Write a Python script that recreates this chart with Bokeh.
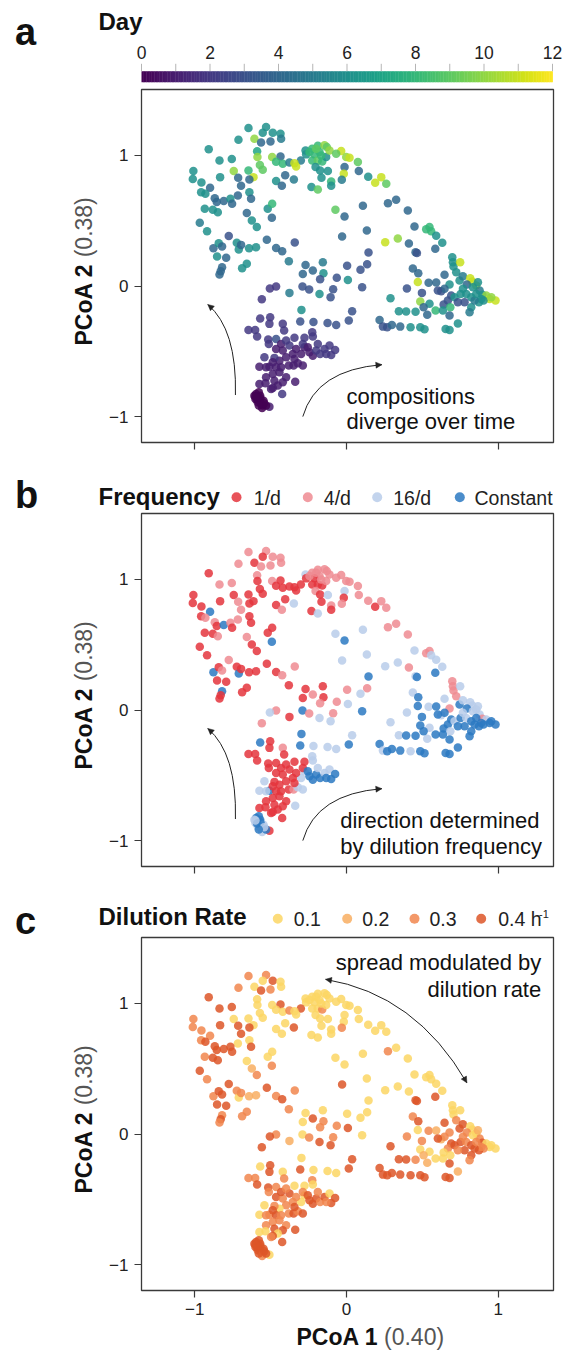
import math
from bokeh.plotting import figure
from bokeh.models import Range1d, FixedTicker, Label, Arrow, NormalHead, ColumnDataSource
from bokeh.layouts import column, row
from bokeh.palettes import Viridis256
from bokeh.transform import linear_cmap
from bokeh.core.properties import value
from bokeh.embed import file_html
from bokeh.resources import INLINE

FONT = "Liberation Sans"

# ---------------- data (PCoA coordinates, sampling day, dilution frequency, dilution rate)
pc1 = [
 -0.646,-0.530,-0.552,-0.486,-0.435,-0.431,-0.712,-0.607,-0.563,-0.501,
 -0.908,-0.589,-0.587,-0.490,-0.435,-0.837,-0.756,-1.009,-1.013,-0.743,
 -0.646,-0.571,-0.552,-0.464,-0.420,-0.376,-0.613,-0.640,-0.714,-0.833,
 -0.956,-0.899,-0.695,-0.640,-0.716,-0.958,-0.930,-0.868,-0.855,-0.809,
 -0.765,-0.754,-0.629,-0.934,-0.881,-0.848,-0.519,-0.490,-0.657,-0.492,
 -0.624,-0.591,-0.967,-0.919,-0.776,-0.877,-0.842,-0.820,-0.723,-0.710,
 -0.695,-0.853,-0.793,-0.642,-0.596,-0.525,-0.464,-0.424,-0.341,-0.657,
 -0.688,-0.820,-0.829,-0.837,
 -0.270,-0.226,-0.189,-0.145,-0.130,-0.178,-0.211,-0.266,-0.301,-0.343,
 -0.332,-0.226,-0.189,-0.160,-0.134,-0.204,-0.174,-0.123,-0.035,-0.002,
 0.020,0.075,-0.013,0.081,-0.018,-0.165,-0.231,-0.189,-0.101,-0.101,
 -0.031,-0.347,-0.404,-0.464,-0.426,0.143,0.189,0.229,0.262,
 0.327,0.273,0.108,0.404,-0.073,-0.013,0.134,-0.029,0.448,0.525,
 0.547,0.558,0.591,0.255,0.338,0.411,0.455,0.464,0.585,0.631,
 0.145,0.004,0.136,0.092,-0.156,-0.270,-0.222,-0.152,-0.174,-0.288,
 -0.380,-0.064,0.009,-0.290,-0.246,-0.088,-0.105,-0.178,-0.376,-0.464,
 -0.505,-0.558,0.103,0.437,0.473,0.398,0.470,0.497,0.486,0.541,
 0.591,0.624,0.646,0.679,0.697,0.701,0.705,0.749,0.723,0.745,
 0.767,0.815,0.829,0.855,0.793,0.690,0.668,0.640,0.684,0.712,
 0.752,0.789,0.822,0.877,0.895,0.921,0.943,0.982,0.903,0.873,
 0.822,0.811,0.587,0.635,0.679,0.532,0.455,0.345,0.393,0.290,
 0.218,0.240,0.268,0.299,0.354,0.422,0.486,0.514,0.653,0.679,0.734,
 -0.297,0.037,0.015,-0.068,-0.125,-0.218,-0.305,-0.569,-0.503,-0.508,
 -0.420,-0.646,-0.602,-0.589,-0.516,-0.512,-0.464,-0.411,-0.376,-0.343,
 -0.277,-0.226,-0.222,-0.464,-0.420,-0.398,-0.442,-0.475,-0.541,-0.574,
 -0.508,-0.464,-0.380,-0.349,-0.321,-0.288,-0.299,-0.277,-0.244,-0.222,
 -0.200,-0.174,-0.145,-0.112,-0.075,-0.101,-0.288,-0.332,-0.442,-0.486,
 -0.530,-0.398,-0.420,-0.338,-0.475,-0.453,-0.574,-0.534,-0.486,-0.424,-0.497,
 -0.596,-0.585,-0.600,-0.574,-0.563,-0.585,-0.552,-0.508,-0.569,-0.547,-0.578,-0.607,-0.556,-0.530,
 0.833,0.866,0.888,0.954,0.844,0.778,0.734,0.767,0.855,0.646,0.602,0.547,0.508,
 -0.431,-0.354,-0.398,-0.486,-0.343,-0.530,-0.431,-0.255,-0.189,-0.134,
 -0.589,-0.567,-0.543,-0.578,-0.600,
 -0.167,-0.244,-0.200,-0.112,-0.068,
]
pc2 = [
 1.209,1.217,1.173,1.173,1.166,1.128,1.120,1.128,1.099,1.107,
 1.048,1.031,0.987,0.987,0.992,0.962,0.972,0.880,0.819,0.880,
 0.885,0.926,0.890,0.952,0.936,0.946,0.834,0.816,0.829,0.834,
 0.793,0.753,0.768,0.719,0.694,0.719,0.707,0.673,0.643,0.651,
 0.668,0.630,0.668,0.592,0.584,0.566,0.592,0.630,0.559,0.523,
 0.503,0.452,0.485,0.421,0.383,0.291,0.329,0.304,0.332,0.281,
 0.316,0.227,0.217,0.291,0.298,0.355,0.293,0.268,0.334,0.171,
 0.138,0.145,0.115,0.089,
 1.038,1.051,1.074,1.077,1.064,1.026,1.008,1.008,0.962,0.941,
 0.916,0.962,0.962,0.954,0.987,0.911,0.885,0.880,1.033,0.987,
 0.982,0.949,0.911,0.880,0.860,0.829,0.758,0.740,0.801,0.768,
 0.814,0.816,0.849,0.804,0.768,0.837,0.791,0.834,0.783,
 0.661,0.635,0.615,0.579,0.584,0.533,0.426,0.380,0.457,0.436,
 0.452,0.421,0.385,0.337,0.365,0.327,0.260,0.253,0.286,0.332,
 0.258,0.156,0.168,0.125,0.184,0.163,0.120,0.099,0.054,0.094,
 0.191,0.064,0.048,-0.003,-0.026,-0.023,-0.084,-0.059,-0.051,-0.003,
 -0.018,-0.099,-0.008,0.135,0.099,-0.018,0.033,-0.051,-0.117,0.026,
 0.028,-0.038,0.087,0.013,0.222,0.184,0.151,0.184,0.107,0.043,
 0.077,0.061,0.036,0.005,0.013,-0.071,-0.110,-0.140,-0.161,-0.084,
 -0.059,-0.059,-0.084,-0.033,-0.066,-0.071,-0.097,-0.110,-0.110,-0.122,
 -0.161,-0.199,-0.186,-0.186,-0.224,-0.219,-0.196,-0.191,-0.194,-0.092,
 -0.258,-0.309,-0.314,-0.296,-0.309,-0.314,-0.314,-0.329,-0.327,-0.334,-0.286,
 -0.181,-0.191,-0.263,-0.296,-0.281,-0.273,-0.270,-0.247,-0.237,-0.288,
 -0.288,-0.334,-0.334,-0.385,-0.408,-0.441,-0.403,-0.339,-0.454,-0.395,
 -0.395,-0.352,-0.385,-0.480,-0.492,-0.543,-0.569,-0.548,-0.543,-0.615,
 -0.615,-0.620,-0.607,-0.607,-0.589,-0.607,-0.518,-0.467,-0.505,-0.531,
 -0.492,-0.518,-0.480,-0.454,-0.487,-0.526,-0.441,-0.480,-0.658,-0.671,
 -0.696,-0.696,-0.735,-0.730,-0.722,-0.760,-0.747,-0.742,-0.778,-0.824,-0.786,
 -0.824,-0.849,-0.862,-0.875,-0.901,-0.888,-0.913,-0.921,-0.837,-0.875,-0.811,-0.837,-0.931,-0.913,
 -0.008,0.031,-0.097,-0.084,-0.110,-0.122,-0.122,-0.020,-0.059,-0.020,-0.033,-0.135,-0.161,
 -0.441,-0.518,-0.416,-0.582,-0.556,-0.620,-0.620,-0.467,-0.441,-0.518,
 -0.867,-0.857,-0.895,-0.913,-0.844,
 1.000,1.026,1.051,1.038,1.013,
]
day = [
 6,6,6,6,6,5,6,10,4,4,
 6,7,10,10,4,6,6,6,6,10,
 8,9,9,8,8,5,11,4,4,6,
 6,4,4,6,4,6,6,4,4,4,
 6,4,4,6,6,6,6,8,4,4,
 6,6,5,6,3,4,6,4,6,6,
 4,6,4,6,6,4,4,4,3,6,
 6,4,4,4,
 6,8,8,10,9,8,8,6,5,11,
 11,8,9,8,6,6,6,6,11,10,
 11,9,4,4,11,6,6,9,8,6,
 5,5,4,6,4,6,11,11,9,
 4,4,4,4,9,4,4,4,4,8,
 8,8,6,11,10,4,4,3,4,6,
 3,3,3,3,5,4,4,6,3,4,
 5,3,6,3,3,3,3,6,5,2,
 2,2,3,4,4,3,11,3,10,4,
 4,3,4,6,6,6,6,11,6,6,
 5,11,11,10,4,3,3,3,8,6,
 6,6,6,5,6,10,11,11,6,6,
 6,5,8,6,4,4,6,6,6,6,
 4,3,3,4,4,6,6,6,6,6,6,
 6,3,3,3,3,3,3,2,2,2,
 2,2,2,2,2,2,3,2,2,2,
 2,2,2,1,1,1,1,2,2,1,
 1,1,1,1,1,1,1,1,1,1,
 2,2,2,2,2,2,2,1,1,1,
 1,1,1,1,1,1,1,1,1,2,1,
 0,0,0,0,0,0,0,1,0,0,0,0,0,0,
 6,6,6,10,5,3,3,6,6,4,3,6,4,
 1,1,2,1,1,1,1,1,2,2,
 0,0,0,0,0,
 8,8,9,10,9,
]
# dilutions per day; 0 = constant (continuous) dilution
freq = [
 4,4,1,4,4,4,4,1,4,4,
 1,4,1,4,1,4,4,1,1,1,
 1,1,1,1,1,1,1,1,4,1,
 1,0,4,1,4,1,4,4,1,0,
 4,1,1,1,1,4,1,1,4,0,
 1,1,1,1,4,0,1,4,1,0,
 1,1,1,1,1,1,1,4,4,1,
 1,0,1,1,
 16,4,4,4,4,4,1,1,1,1,
 1,1,1,1,4,4,1,16,4,4,
 4,4,16,4,1,1,1,16,4,1,
 4,16,1,1,4,4,1,4,4,
 4,4,16,4,16,0,16,16,16,4,
 4,16,16,16,16,4,16,0,0,16,
 0,4,4,16,1,1,4,1,4,1,
 1,4,16,0,4,4,16,16,1,4,
 16,4,0,16,0,16,0,0,0,16,
 0,16,16,4,4,4,4,16,4,0,
 16,16,16,16,0,0,0,0,16,16,
 0,16,0,16,4,16,0,0,0,0,
 0,0,0,0,0,16,0,16,0,16,
 0,16,0,0,0,16,0,0,0,0,0,
 0,16,0,16,16,16,0,0,1,1,
 4,1,1,1,1,1,1,1,1,1,
 1,16,16,1,1,1,1,1,16,16,
 0,1,1,4,16,16,16,16,0,0,
 0,0,16,16,0,0,1,1,1,1,
 1,1,1,16,1,1,1,1,1,1,1,
 0,0,16,0,16,16,16,1,0,16,0,16,16,0,
 16,16,0,0,0,0,0,16,0,0,0,16,0,
 1,1,1,1,1,16,1,0,16,0,
 0,0,16,0,16,
 4,4,4,4,4,
]
rate = [
 .3,.3,.1,.4,.1,.1,.3,.1,.4,.3,
 .4,.1,.1,.1,.4,.4,.4,.3,.3,.1,
 .1,.1,.1,.1,.1,.3,.1,.4,.4,.4,
 .3,.3,.4,.1,.1,.3,.4,.4,.4,.4,
 .4,.4,.4,.3,.4,.4,.1,.1,.1,.3,
 .2,.3,.4,.3,.4,.3,.4,.4,.3,.1,
 .3,.4,.4,.2,.2,.4,.3,.4,.3,.3,
 .3,.3,.4,.3,
 .1,.1,.1,.1,.1,.1,.1,.1,.4,.1,
 .1,.1,.1,.3,.1,.1,.1,.1,.1,.1,
 .1,.1,.1,.1,.1,.1,.1,.1,.1,.1,
 .3,.4,.1,.1,.1,.1,.1,.1,.1,
 .1,.3,.1,.1,.1,.1,.1,.4,.1,.1,
 .1,.1,.1,.1,.1,.1,.4,.4,.4,.1,
 .1,.1,.1,.1,.1,.1,.4,.3,.3,.1,
 .3,.3,.4,.1,.3,.3,.4,.4,.2,.3,
 .4,.4,.1,.3,.4,.3,.1,.3,.1,.3,
 .2,.2,.4,.3,.1,.1,.1,.1,.3,.4,
 .4,.1,.1,.1,.3,.4,.3,.1,.1,.4,
 .4,.3,.4,.3,.4,.1,.1,.1,.3,.4,
 .4,.3,.1,.1,.4,.2,.3,.4,.4,.4,
 .4,.4,.4,.4,.4,.4,.4,.4,.4,.4,.2,
 .1,.4,.4,.1,.1,.1,.4,.1,.4,.4,
 .1,.3,.3,.4,.4,.3,.3,.3,.4,.1,
 .1,.3,.1,.4,.3,.3,.1,.3,.1,.1,
 .3,.4,.3,.4,.3,.4,.1,.1,.4,.4,
 .4,.3,.4,.1,.4,.4,.3,.3,.3,.3,
 .3,.3,.4,.4,.4,.1,.1,.1,.4,.4,.3,
 .4,.4,.4,.4,.4,.4,.3,.1,.4,.4,.4,.4,.3,.4,
 .1,.2,.3,.1,.4,.4,.3,.3,.3,.3,.4,.1,.2,
 .4,.3,.3,.4,.4,.3,.3,.4,.3,.3,
 .4,.4,.4,.4,.4,
 .1,.1,.1,.1,.1,
]

pc_ticks = [-1, 0, 1]
pc_tick_labels = ["\u22121", "0", "1"]
day_ticks = [0, 1, 2, 3, 4, 5, 6, 7, 8, 9, 10, 11, 12]
day_labels = ["0", "2", "4", "6", "8", "10", "12"]
freq_codes = [1, 4, 16, 0]
freq_names = ["1/d", "4/d", "16/d", "Constant"]
rate_levels = [0.1, 0.2, 0.3, 0.4]
rate_names = ["0.1", "0.2", "0.3", "0.4 h"]

FREQ_COLORS = {1: "#e4353d", 4: "#ee8b92", 16: "#b9cdea", 0: "#2b79c2"}
RATE_COLORS = {0.1: "#fcd664", 0.2: "#f8ae62", 0.3: "#f1864d", 0.4: "#dd5628"}

n = len(pc1)
assert len(pc2) == n and len(day) == n and len(freq) == n and len(rate) == n

src = ColumnDataSource(dict(
    x=pc1, y=pc2, day=day,
    fcol=[FREQ_COLORS[f] for f in freq],
    rcol=[RATE_COLORS[r] for r in rate],
))

# ---------------- geometry (page pixels)
W = 564
WL = 98                 # left strip: panel letter + rotated y-axis title
LEFT, RIGHT = 141, 11   # frame edges
FRAME_H = 353
X_RANGE = (-1.351, 1.364)
Y_RANGE = (-1.195, 1.504)
YPX = FRAME_H / (Y_RANGE[1] - Y_RANGE[0])
SHIFT = 0.32            # em; compensates the renderer's baseline offset


def label(p, x, y, text, size, bold=False, color="#111111", align="left"):
    p.add_layout(Label(x=x, y=y + SHIFT * size / YPX, text=text, text_font=FONT, text_font_size=f"{size}px",
                       text_font_style="bold" if bold else "normal", text_color=color,
                       text_align=align, text_baseline="alphabetic"))


def px_y(off):  # data y for an offset (px) below the frame top
    return Y_RANGE[1] - off / YPX


def curved_arrow(p, p0, c, p2, heads):
    p.quadratic(x0=[p0[0]], y0=[p0[1]], x1=[p2[0]], y1=[p2[1]], cx=[c[0]], cy=[c[1]],
                line_color="#222222", line_width=1)
    for tip in heads:
        dxx, dyy = tip[0] - c[0], tip[1] - c[1]
        p.add_layout(Arrow(end=NormalHead(size=6, fill_color="#222222", line_color="#222222", line_width=0.5),
                           x_start=tip[0] - 0.03 * dxx, y_start=tip[1] - 0.03 * dyy,
                           x_end=tip[0], y_end=tip[1], line_alpha=0))


def strip(width, height, flip=True):
    """A plain canvas whose data units are pixels (used for titles / legends)."""
    yr = Range1d(height, 0) if flip else Range1d(0, height)
    h = figure(width=width, height=height, x_range=Range1d(0, width), y_range=yr,
               min_border=0, min_border_left=0, min_border_right=0, min_border_top=0, min_border_bottom=0,
               x_axis_location=None, y_axis_location=None,
               toolbar_location=None, output_backend="svg")
    h.frame_align = False
    h.grid.visible = False
    h.outline_line_color = None
    return h


def htext(h, xs, ys, texts, size, bold=False, color="#111111", align="left", x0=WL):
    """Horizontal text on a flipped strip; xs are page x, ys local baselines."""
    h.text(x=[x - x0 for x in xs], y=[y - SHIFT * size for y in ys], text=texts, text_font=value(FONT),
           text_font_size=value(f"{size}px"), text_font_style="bold" if bold else "normal",
           text_color=color, text_align=align, text_baseline="alphabetic")


def panel(height, top, bottom, fill):
    p = figure(width=W - WL, height=height, x_range=Range1d(*X_RANGE), y_range=Range1d(*Y_RANGE),
               min_border_left=LEFT - WL, min_border_right=RIGHT, min_border_top=top, min_border_bottom=bottom,
               toolbar_location=None, output_backend="svg")
    p.frame_align = False
    p.grid.visible = False
    p.outline_line_color = "#3a3a3a"
    p.outline_line_width = 1.3
    for ax in (p.xaxis[0], p.yaxis[0]):
        ax.ticker = FixedTicker(ticks=pc_ticks)
        ax.axis_line_color = None
        ax.major_tick_line_color = "#3a3a3a"
        ax.major_tick_line_width = 1.2
        ax.major_tick_in = 0
        ax.major_tick_out = 7
        ax.minor_tick_line_color = None
        ax.major_label_text_font = FONT
        ax.major_label_text_font_size = "17px"
        ax.major_label_text_color = "#222222"
        ax.major_label_overrides = {t: s for t, s in zip(pc_ticks, pc_tick_labels)}
    p.yaxis.major_label_standoff = 6
    p.xaxis.major_label_standoff = 5
    p.scatter(x="x", y="y", source=src, size=8.5, fill_color=fill, line_color=None, fill_alpha=0.85)
    return p


def hide_x_labels(p):
    p.xaxis.major_label_text_font_size = "1px"
    p.xaxis.major_label_text_color = None
    p.xaxis.major_label_standoff = 0


def left_strip(height, letter, letter_baseline, frame_top):
    """letter_baseline / frame_top are offsets from the block top."""
    s = strip(WL, height, flip=False)
    s.text(x=[14.5], y=[height - letter_baseline + SHIFT * 38], text=[letter], text_font=value(FONT),
           text_font_size=value("38px"), text_font_style="bold", text_color="#111111",
           text_align="left", text_baseline="alphabetic")
    ys = [height - (frame_top + 256), height - (frame_top + 167.8)]
    for yy, t, st, col in zip(ys, ["PCoA 2", "(0.38)"], ["bold", "normal"], ["#111111", "#555555"]):
        s.text(x=[91 - SHIFT * 23], y=[yy], text=[t], text_font=value(FONT), text_font_size=value("23px"),
               text_font_style=st, text_color=col, text_align="left", text_baseline="alphabetic",
               angle=math.pi / 2)
    return s


# ================= block a (page 0..471)
ha = strip(W - WL, 86)
htext(ha, [WL], [28.3], ["Day"], 24, bold=True)
CB_L, CB_W = LEFT - WL, 411
nseg = len(Viridis256)
seg = CB_W / nseg
lefts = [CB_L + i * seg for i in range(nseg)]
ha.quad(left=lefts, right=[l + seg + 0.4 for l in lefts], top=[70.7] * nseg, bottom=[81.7] * nseg,
        fill_color=list(Viridis256), line_color=None)
tx = [CB_L + d * CB_W / 12 for d in day_ticks]
ha.segment(x0=tx, y0=[63.3] * len(tx), x1=tx, y1=[70.7] * len(tx), line_color="#b5b5b5", line_width=1)
htext(ha, [LEFT + int(s) * CB_W / 12 for s in day_labels], [57.3] * len(day_labels), day_labels, 17.5,
      color="#222222", align="center")

fa = panel(385, 3, 29, linear_cmap("day", Viridis256, 0, 12))
hide_x_labels(fa)
curved_arrow(fa, (-0.732, -0.832), (-0.722, -0.33), (-0.914, -0.14), [(-0.914, -0.14)])
curved_arrow(fa, (-0.288, -0.997), (-0.20, -0.64), (0.233, -0.60), [(0.233, -0.60)])
label(fa, 0.0, px_y(313.7), "compositions", 22)
label(fa, 0.0, px_y(339.5), "diverge over time", 22)
block_a = row(left_strip(471, "a", 44, 89), column(ha, fa, spacing=0), spacing=0)

# ================= block b (page 471..895)
hb = strip(W - WL, 41)
htext(hb, [WL], [32.3], ["Frequency"], 24, bold=True)
hb.scatter(x=[x - WL for x in (236, 307.3, 376.7, 459.3)], y=[25.7] * 4, size=10,
           fill_color=[FREQ_COLORS[c] for c in freq_codes], line_color=None, fill_alpha=0.85)
htext(hb, [253.3, 323.3, 392.7, 474], [32.3] * 4, freq_names, 19.5, color="#222222")

fb = panel(383, 1, 29, "fcol")
hide_x_labels(fb)
curved_arrow(fb, (-0.732, -0.832), (-0.722, -0.33), (-0.914, -0.14), [(-0.914, -0.14)])
curved_arrow(fb, (-0.288, -0.997), (-0.20, -0.64), (0.233, -0.60), [(0.233, -0.60)])
label(fb, -0.042, px_y(313.7), "direction determined", 22)
label(fb, -0.042, px_y(339.7), "by dilution frequency", 22)
block_b = row(left_strip(424, "b", 506.7 - 471, 42), column(hb, fb, spacing=0), spacing=0)

# ================= block c (page 895..1357)
hc = strip(W - WL, 41)
htext(hc, [WL], [28.3], ["Dilution Rate"], 24, bold=True)
hc.scatter(x=[x - WL for x in (277.3, 346.7, 414, 480.7)], y=[23.3] * 4, size=10,
           fill_color=[RATE_COLORS[r] for r in rate_levels], line_color=None, fill_alpha=0.85)
htext(hc, [293.3, 361.7, 429, 497.7], [30] * 4, rate_names, 19.5, color="#222222")
htext(hc, [538.5], [22.5], ["-1"], 11, color="#222222")

fc = panel(387, 1, 33, "rcol")
curved_arrow(fc, (-0.138, 1.184), (0.456, 1.069), (0.793, 0.393), [(-0.138, 1.184), (0.793, 0.393)])
label(fc, 1.283, px_y(32.3), "spread modulated by", 22, align="right")
label(fc, 1.283, px_y(58.7), "dilution rate", 22, align="right")

xl = strip(W - WL, 34)
htext(xl, [296], [21], ["PCoA 1"], 23, bold=True)
htext(xl, [383.5], [21], ["(0.40)"], 23, color="#555555")
block_c = row(left_strip(462, "c", 932.5 - 895, 42), column(hc, fc, xl, spacing=0), spacing=0)

layout = column(block_a, block_b, block_c, spacing=0)
open("out.html", "w").write(file_html(layout, INLINE))
